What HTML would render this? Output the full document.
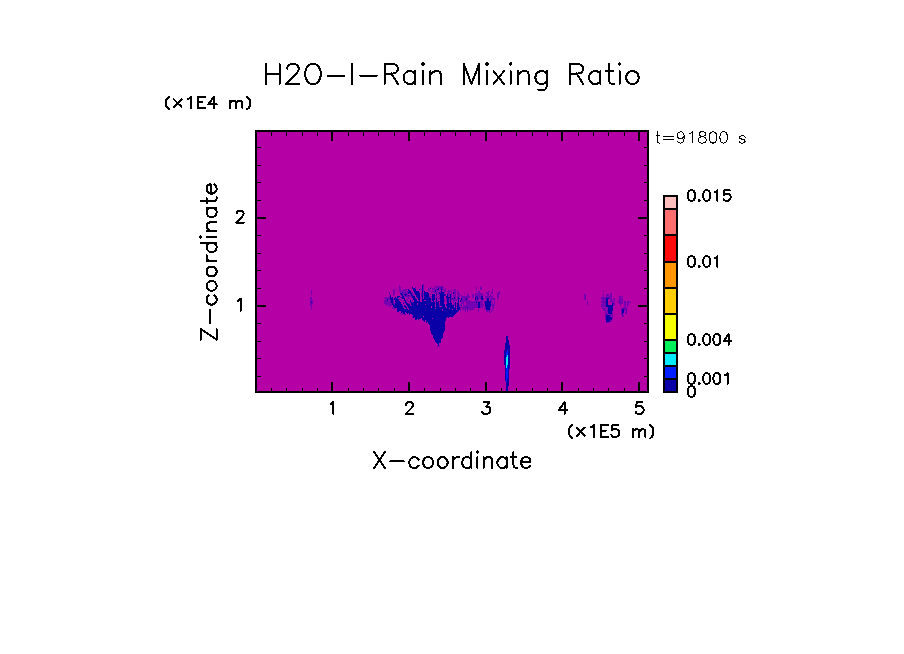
<!DOCTYPE html>
<html><head><meta charset="utf-8"><title>H2O-I-Rain Mixing Ratio</title>
<style>html,body{margin:0;padding:0;background:#fff;font-family:"Liberation Sans",sans-serif;}svg{display:block}</style></head><body>
<svg width="904" height="654" viewBox="0 0 904 654" shape-rendering="crispEdges">
<rect x="0" y="0" width="904" height="654" fill="#fff"/>
<rect x="255" y="130" width="394" height="263" fill="#b400a5"/>
<path fill="#7500b2" d="M423 284h1v1h-1zM399 285h1v1h-1zM423 285h1v1h-1zM399 286h1v1h-1zM423 286h1v1h-1zM435 286h8v1h-8zM480 286h1v1h-1zM399 287h2v1h-2zM415 287h1v1h-1zM423 287h1v1h-1zM431 287h1v1h-1zM434 287h2v1h-2zM437 287h4v1h-4zM442 287h2v1h-2zM476 287h1v1h-1zM480 287h2v1h-2zM399 288h2v1h-2zM415 288h1v1h-1zM420 288h1v1h-1zM423 288h1v1h-1zM428 288h1v1h-1zM432 288h3v1h-3zM436 288h1v1h-1zM439 288h2v1h-2zM442 288h1v1h-1zM445 288h1v1h-1zM476 288h1v1h-1zM480 288h2v1h-2zM393 289h2v1h-2zM396 289h1v1h-1zM399 289h2v1h-2zM403 289h5v1h-5zM421 289h1v1h-1zM423 289h1v1h-1zM428 289h2v1h-2zM432 289h5v1h-5zM440 289h1v1h-1zM442 289h4v1h-4zM451 289h1v1h-1zM454 289h2v1h-2zM476 289h1v1h-1zM480 289h2v1h-2zM492 289h1v1h-1zM311 290h1v1h-1zM393 290h2v1h-2zM399 290h7v1h-7zM410 290h1v1h-1zM420 290h1v1h-1zM423 290h1v1h-1zM428 290h3v1h-3zM432 290h1v1h-1zM434 290h1v1h-1zM436 290h4v1h-4zM443 290h3v1h-3zM448 290h2v1h-2zM451 290h1v1h-1zM453 290h3v1h-3zM457 290h1v1h-1zM492 290h1v1h-1zM311 291h1v1h-1zM393 291h2v1h-2zM399 291h10v1h-10zM419 291h1v1h-1zM423 291h1v1h-1zM430 291h1v1h-1zM432 291h3v1h-3zM436 291h2v1h-2zM440 291h1v1h-1zM442 291h1v1h-1zM444 291h2v1h-2zM447 291h3v1h-3zM451 291h1v1h-1zM454 291h2v1h-2zM458 291h1v1h-1zM476 291h4v1h-4zM488 291h2v1h-2zM492 291h1v1h-1zM499 291h1v1h-1zM603 291h1v1h-1zM311 292h1v1h-1zM389 292h1v1h-1zM393 292h2v1h-2zM400 292h1v1h-1zM403 292h5v1h-5zM411 292h2v1h-2zM419 292h1v1h-1zM421 292h1v1h-1zM431 292h1v1h-1zM433 292h4v1h-4zM438 292h1v1h-1zM440 292h1v1h-1zM444 292h1v1h-1zM448 292h2v1h-2zM451 292h1v1h-1zM454 292h2v1h-2zM457 292h2v1h-2zM478 292h2v1h-2zM486 292h3v1h-3zM491 292h2v1h-2zM498 292h2v1h-2zM311 293h1v1h-1zM389 293h1v1h-1zM393 293h2v1h-2zM402 293h6v1h-6zM409 293h1v1h-1zM412 293h1v1h-1zM414 293h1v1h-1zM421 293h1v1h-1zM423 293h1v1h-1zM435 293h4v1h-4zM447 293h3v1h-3zM451 293h1v1h-1zM454 293h2v1h-2zM457 293h3v1h-3zM464 293h1v1h-1zM475 293h8v1h-8zM485 293h4v1h-4zM491 293h2v1h-2zM497 293h3v1h-3zM610 293h2v1h-2zM311 294h1v1h-1zM389 294h1v1h-1zM393 294h2v1h-2zM400 294h1v1h-1zM403 294h1v1h-1zM407 294h1v1h-1zM410 294h1v1h-1zM412 294h2v1h-2zM421 294h1v1h-1zM423 294h1v1h-1zM430 294h1v1h-1zM438 294h2v1h-2zM448 294h2v1h-2zM451 294h1v1h-1zM453 294h1v1h-1zM455 294h1v1h-1zM457 294h3v1h-3zM467 294h2v1h-2zM472 294h2v1h-2zM475 294h8v1h-8zM487 294h2v1h-2zM490 294h1v1h-1zM497 294h3v1h-3zM584 294h2v1h-2zM603 294h1v1h-1zM606 294h3v1h-3zM610 294h2v1h-2zM393 295h1v1h-1zM401 295h1v1h-1zM403 295h2v1h-2zM406 295h2v1h-2zM409 295h2v1h-2zM421 295h1v1h-1zM429 295h1v1h-1zM435 295h2v1h-2zM439 295h1v1h-1zM445 295h1v1h-1zM448 295h2v1h-2zM451 295h1v1h-1zM453 295h3v1h-3zM458 295h2v1h-2zM461 295h1v1h-1zM467 295h2v1h-2zM472 295h2v1h-2zM475 295h8v1h-8zM484 295h1v1h-1zM487 295h2v1h-2zM490 295h1v1h-1zM493 295h1v1h-1zM497 295h2v1h-2zM584 295h2v1h-2zM603 295h1v1h-1zM606 295h3v1h-3zM610 295h2v1h-2zM389 296h1v1h-1zM404 296h8v1h-8zM421 296h1v1h-1zM423 296h1v1h-1zM430 296h2v1h-2zM436 296h1v1h-1zM438 296h1v1h-1zM448 296h2v1h-2zM451 296h1v1h-1zM453 296h3v1h-3zM457 296h3v1h-3zM461 296h9v1h-9zM472 296h2v1h-2zM475 296h1v1h-1zM477 296h4v1h-4zM485 296h8v1h-8zM497 296h2v1h-2zM584 296h2v1h-2zM603 296h1v1h-1zM606 296h6v1h-6zM619 296h4v1h-4zM310 297h2v1h-2zM385 297h5v1h-5zM391 297h1v1h-1zM400 297h1v1h-1zM404 297h2v1h-2zM407 297h2v1h-2zM411 297h1v1h-1zM420 297h1v1h-1zM436 297h2v1h-2zM439 297h1v1h-1zM451 297h1v1h-1zM453 297h1v1h-1zM455 297h1v1h-1zM457 297h1v1h-1zM461 297h9v1h-9zM472 297h2v1h-2zM476 297h1v1h-1zM478 297h3v1h-3zM485 297h8v1h-8zM497 297h2v1h-2zM584 297h2v1h-2zM601 297h11v1h-11zM619 297h2v1h-2zM310 298h2v1h-2zM384 298h6v1h-6zM408 298h2v1h-2zM420 298h1v1h-1zM431 298h1v1h-1zM435 298h1v1h-1zM438 298h2v1h-2zM446 298h1v1h-1zM449 298h1v1h-1zM451 298h1v1h-1zM453 298h1v1h-1zM455 298h1v1h-1zM457 298h1v1h-1zM462 298h4v1h-4zM467 298h1v1h-1zM476 298h1v1h-1zM478 298h3v1h-3zM483 298h1v1h-1zM486 298h1v1h-1zM490 298h5v1h-5zM497 298h1v1h-1zM584 298h2v1h-2zM601 298h5v1h-5zM609 298h3v1h-3zM613 298h2v1h-2zM619 298h4v1h-4zM310 299h2v1h-2zM385 299h2v1h-2zM388 299h2v1h-2zM393 299h1v1h-1zM399 299h3v1h-3zM406 299h2v1h-2zM410 299h1v1h-1zM412 299h1v1h-1zM431 299h1v1h-1zM438 299h1v1h-1zM444 299h1v1h-1zM446 299h1v1h-1zM449 299h1v1h-1zM451 299h7v1h-7zM462 299h4v1h-4zM467 299h1v1h-1zM476 299h1v1h-1zM478 299h1v1h-1zM483 299h1v1h-1zM486 299h1v1h-1zM490 299h5v1h-5zM497 299h1v1h-1zM584 299h2v1h-2zM601 299h5v1h-5zM610 299h2v1h-2zM613 299h2v1h-2zM619 299h4v1h-4zM310 300h3v1h-3zM384 300h3v1h-3zM389 300h2v1h-2zM393 300h1v1h-1zM401 300h1v1h-1zM403 300h1v1h-1zM407 300h1v1h-1zM412 300h1v1h-1zM437 300h1v1h-1zM444 300h1v1h-1zM446 300h1v1h-1zM451 300h1v1h-1zM453 300h4v1h-4zM461 300h9v1h-9zM475 300h4v1h-4zM481 300h2v1h-2zM484 300h1v1h-1zM486 300h1v1h-1zM490 300h2v1h-2zM494 300h1v1h-1zM602 300h4v1h-4zM610 300h3v1h-3zM614 300h1v1h-1zM618 300h5v1h-5zM310 301h3v1h-3zM384 301h7v1h-7zM393 301h1v1h-1zM406 301h1v1h-1zM408 301h2v1h-2zM411 301h1v1h-1zM431 301h1v1h-1zM435 301h1v1h-1zM439 301h1v1h-1zM444 301h1v1h-1zM446 301h1v1h-1zM449 301h1v1h-1zM453 301h2v1h-2zM457 301h1v1h-1zM461 301h22v1h-22zM484 301h1v1h-1zM491 301h1v1h-1zM494 301h1v1h-1zM587 301h1v1h-1zM601 301h5v1h-5zM610 301h4v1h-4zM618 301h5v1h-5zM624 301h2v1h-2zM627 301h3v1h-3zM310 302h1v1h-1zM312 302h1v1h-1zM384 302h7v1h-7zM393 302h1v1h-1zM395 302h1v1h-1zM403 302h2v1h-2zM412 302h1v1h-1zM435 302h1v1h-1zM451 302h1v1h-1zM453 302h1v1h-1zM461 302h3v1h-3zM466 302h10v1h-10zM477 302h1v1h-1zM480 302h3v1h-3zM484 302h1v1h-1zM492 302h1v1h-1zM494 302h1v1h-1zM587 302h1v1h-1zM601 302h5v1h-5zM612 302h3v1h-3zM618 302h5v1h-5zM624 302h2v1h-2zM627 302h4v1h-4zM310 303h3v1h-3zM384 303h8v1h-8zM393 303h2v1h-2zM408 303h2v1h-2zM435 303h1v1h-1zM454 303h1v1h-1zM456 303h1v1h-1zM461 303h3v1h-3zM466 303h12v1h-12zM480 303h3v1h-3zM484 303h1v1h-1zM492 303h1v1h-1zM494 303h1v1h-1zM587 303h1v1h-1zM602 303h4v1h-4zM613 303h2v1h-2zM619 303h4v1h-4zM624 303h2v1h-2zM627 303h2v1h-2zM310 304h2v1h-2zM386 304h6v1h-6zM394 304h1v1h-1zM402 304h1v1h-1zM439 304h1v1h-1zM453 304h2v1h-2zM460 304h2v1h-2zM463 304h1v1h-1zM466 304h12v1h-12zM480 304h4v1h-4zM491 304h4v1h-4zM587 304h1v1h-1zM601 304h5v1h-5zM613 304h2v1h-2zM620 304h1v1h-1zM624 304h2v1h-2zM627 304h2v1h-2zM310 305h2v1h-2zM385 305h2v1h-2zM389 305h3v1h-3zM402 305h1v1h-1zM405 305h1v1h-1zM410 305h2v1h-2zM439 305h1v1h-1zM454 305h1v1h-1zM459 305h2v1h-2zM463 305h15v1h-15zM480 305h4v1h-4zM491 305h4v1h-4zM601 305h5v1h-5zM613 305h2v1h-2zM620 305h1v1h-1zM624 305h2v1h-2zM627 305h1v1h-1zM311 306h1v1h-1zM388 306h2v1h-2zM403 306h1v1h-1zM406 306h2v1h-2zM439 306h1v1h-1zM456 306h1v1h-1zM459 306h1v1h-1zM461 306h1v1h-1zM463 306h15v1h-15zM480 306h3v1h-3zM492 306h2v1h-2zM601 306h5v1h-5zM624 306h1v1h-1zM627 306h1v1h-1zM311 307h1v1h-1zM392 307h1v1h-1zM454 307h1v1h-1zM460 307h7v1h-7zM468 307h10v1h-10zM480 307h3v1h-3zM485 307h1v1h-1zM492 307h2v1h-2zM602 307h2v1h-2zM605 307h1v1h-1zM607 307h1v1h-1zM623 307h4v1h-4zM311 308h1v1h-1zM392 308h4v1h-4zM408 308h1v1h-1zM456 308h1v1h-1zM460 308h1v1h-1zM462 308h12v1h-12zM478 308h1v1h-1zM484 308h2v1h-2zM490 308h1v1h-1zM492 308h2v1h-2zM602 308h5v1h-5zM621 308h6v1h-6zM311 309h1v1h-1zM394 309h1v1h-1zM460 309h1v1h-1zM462 309h12v1h-12zM478 309h1v1h-1zM485 309h1v1h-1zM490 309h1v1h-1zM492 309h1v1h-1zM603 309h2v1h-2zM606 309h2v1h-2zM621 309h1v1h-1zM624 309h3v1h-3zM460 310h1v1h-1zM465 310h1v1h-1zM467 310h1v1h-1zM470 310h1v1h-1zM478 310h1v1h-1zM486 310h4v1h-4zM491 310h2v1h-2zM603 310h3v1h-3zM607 310h1v1h-1zM621 310h1v1h-1zM624 310h3v1h-3zM460 311h1v1h-1zM465 311h1v1h-1zM467 311h1v1h-1zM478 311h1v1h-1zM486 311h4v1h-4zM491 311h1v1h-1zM605 311h3v1h-3zM621 311h1v1h-1zM625 311h2v1h-2zM402 312h1v1h-1zM489 312h2v1h-2zM605 312h2v1h-2zM621 312h1v1h-1zM625 312h2v1h-2zM400 313h1v1h-1zM402 313h1v1h-1zM405 313h1v1h-1zM605 313h3v1h-3zM612 313h1v1h-1zM621 313h1v1h-1zM625 313h2v1h-2zM401 314h2v1h-2zM404 314h2v1h-2zM605 314h3v1h-3zM609 314h4v1h-4zM621 314h3v1h-3zM605 315h1v1h-1zM610 315h3v1h-3zM622 315h2v1h-2zM412 316h1v1h-1zM605 316h1v1h-1zM610 316h1v1h-1zM612 316h1v1h-1zM622 316h2v1h-2zM412 317h1v1h-1zM414 317h1v1h-1zM605 317h1v1h-1zM612 317h1v1h-1zM605 318h1v1h-1zM612 318h1v1h-1zM605 319h1v1h-1zM610 320h2v1h-2zM610 321h2v1h-2zM606 322h3v1h-3zM437 345h1v1h-1zM439 345h1v1h-1zM437 346h1v1h-1zM439 346h1v1h-1z"/>
<path fill="#0a00a8" d="M422 285h1v1h-1zM422 286h1v1h-1zM412 287h1v1h-1zM422 287h1v1h-1zM441 287h1v1h-1zM412 288h3v1h-3zM422 288h1v1h-1zM430 288h1v1h-1zM438 288h1v1h-1zM441 288h1v1h-1zM408 289h1v1h-1zM413 289h3v1h-3zM419 289h1v1h-1zM422 289h1v1h-1zM437 289h2v1h-2zM441 289h1v1h-1zM408 290h2v1h-2zM413 290h3v1h-3zM422 290h1v1h-1zM435 290h1v1h-1zM441 290h1v1h-1zM409 291h2v1h-2zM414 291h5v1h-5zM422 291h1v1h-1zM424 291h1v1h-1zM435 291h1v1h-1zM441 291h1v1h-1zM402 292h1v1h-1zM408 292h3v1h-3zM414 292h5v1h-5zM422 292h1v1h-1zM424 292h4v1h-4zM439 292h1v1h-1zM441 292h3v1h-3zM453 292h1v1h-1zM400 293h2v1h-2zM408 293h1v1h-1zM410 293h2v1h-2zM415 293h5v1h-5zM422 293h1v1h-1zM424 293h5v1h-5zM439 293h5v1h-5zM453 293h1v1h-1zM401 294h2v1h-2zM404 294h3v1h-3zM411 294h1v1h-1zM415 294h5v1h-5zM422 294h1v1h-1zM424 294h5v1h-5zM432 294h3v1h-3zM436 294h1v1h-1zM440 294h6v1h-6zM447 294h1v1h-1zM450 294h1v1h-1zM390 295h1v1h-1zM402 295h1v1h-1zM405 295h1v1h-1zM408 295h1v1h-1zM411 295h2v1h-2zM416 295h4v1h-4zM422 295h1v1h-1zM424 295h5v1h-5zM432 295h3v1h-3zM440 295h5v1h-5zM447 295h1v1h-1zM450 295h1v1h-1zM390 296h1v1h-1zM397 296h3v1h-3zM402 296h2v1h-2zM412 296h3v1h-3zM416 296h4v1h-4zM422 296h1v1h-1zM424 296h5v1h-5zM432 296h3v1h-3zM440 296h4v1h-4zM446 296h2v1h-2zM450 296h1v1h-1zM476 296h1v1h-1zM481 296h2v1h-2zM390 297h1v1h-1zM392 297h1v1h-1zM395 297h1v1h-1zM397 297h2v1h-2zM401 297h3v1h-3zM412 297h3v1h-3zM417 297h3v1h-3zM422 297h1v1h-1zM424 297h6v1h-6zM432 297h3v1h-3zM440 297h4v1h-4zM446 297h5v1h-5zM454 297h1v1h-1zM458 297h1v1h-1zM475 297h1v1h-1zM477 297h1v1h-1zM481 297h2v1h-2zM390 298h3v1h-3zM394 298h4v1h-4zM402 298h3v1h-3zM413 298h3v1h-3zM418 298h2v1h-2zM422 298h1v1h-1zM424 298h7v1h-7zM432 298h3v1h-3zM436 298h1v1h-1zM440 298h4v1h-4zM447 298h2v1h-2zM450 298h1v1h-1zM452 298h1v1h-1zM454 298h1v1h-1zM458 298h2v1h-2zM461 298h1v1h-1zM466 298h1v1h-1zM475 298h1v1h-1zM477 298h1v1h-1zM481 298h2v1h-2zM487 298h2v1h-2zM606 298h3v1h-3zM387 299h1v1h-1zM390 299h3v1h-3zM394 299h5v1h-5zM404 299h1v1h-1zM413 299h4v1h-4zM418 299h2v1h-2zM422 299h9v1h-9zM432 299h3v1h-3zM436 299h1v1h-1zM440 299h4v1h-4zM447 299h2v1h-2zM450 299h1v1h-1zM458 299h1v1h-1zM461 299h1v1h-1zM466 299h1v1h-1zM475 299h1v1h-1zM477 299h1v1h-1zM481 299h2v1h-2zM487 299h2v1h-2zM606 299h2v1h-2zM387 300h1v1h-1zM391 300h2v1h-2zM395 300h4v1h-4zM404 300h2v1h-2zM410 300h1v1h-1zM414 300h3v1h-3zM419 300h1v1h-1zM422 300h2v1h-2zM426 300h5v1h-5zM432 300h2v1h-2zM436 300h1v1h-1zM440 300h4v1h-4zM447 300h2v1h-2zM450 300h1v1h-1zM458 300h1v1h-1zM460 300h1v1h-1zM487 300h2v1h-2zM606 300h2v1h-2zM391 301h2v1h-2zM395 301h5v1h-5zM405 301h1v1h-1zM410 301h1v1h-1zM414 301h6v1h-6zM422 301h9v1h-9zM433 301h1v1h-1zM436 301h1v1h-1zM438 301h1v1h-1zM440 301h4v1h-4zM447 301h2v1h-2zM450 301h1v1h-1zM458 301h1v1h-1zM460 301h1v1h-1zM485 301h6v1h-6zM606 301h2v1h-2zM311 302h1v1h-1zM391 302h2v1h-2zM396 302h5v1h-5zM405 302h2v1h-2zM410 302h2v1h-2zM413 302h22v1h-22zM436 302h3v1h-3zM440 302h4v1h-4zM447 302h2v1h-2zM450 302h1v1h-1zM455 302h1v1h-1zM458 302h1v1h-1zM476 302h1v1h-1zM478 302h2v1h-2zM485 302h6v1h-6zM606 302h2v1h-2zM392 303h1v1h-1zM395 303h6v1h-6zM403 303h1v1h-1zM406 303h2v1h-2zM411 303h6v1h-6zM418 303h17v1h-17zM436 303h3v1h-3zM440 303h4v1h-4zM447 303h5v1h-5zM455 303h1v1h-1zM457 303h2v1h-2zM478 303h2v1h-2zM485 303h6v1h-6zM606 303h2v1h-2zM612 303h1v1h-1zM392 304h2v1h-2zM395 304h7v1h-7zM406 304h4v1h-4zM411 304h6v1h-6zM418 304h7v1h-7zM426 304h9v1h-9zM436 304h3v1h-3zM440 304h5v1h-5zM446 304h6v1h-6zM455 304h1v1h-1zM457 304h2v1h-2zM478 304h2v1h-2zM485 304h6v1h-6zM606 304h2v1h-2zM612 304h1v1h-1zM393 305h9v1h-9zM404 305h1v1h-1zM407 305h3v1h-3zM412 305h23v1h-23zM436 305h3v1h-3zM440 305h5v1h-5zM446 305h8v1h-8zM455 305h1v1h-1zM457 305h2v1h-2zM461 305h1v1h-1zM478 305h2v1h-2zM485 305h6v1h-6zM606 305h7v1h-7zM393 306h10v1h-10zM404 306h2v1h-2zM408 306h23v1h-23zM432 306h3v1h-3zM436 306h3v1h-3zM442 306h3v1h-3zM447 306h7v1h-7zM455 306h1v1h-1zM457 306h2v1h-2zM478 306h2v1h-2zM485 306h6v1h-6zM606 306h7v1h-7zM394 307h9v1h-9zM405 307h2v1h-2zM408 307h23v1h-23zM432 307h14v1h-14zM447 307h7v1h-7zM455 307h1v1h-1zM457 307h3v1h-3zM467 307h1v1h-1zM478 307h2v1h-2zM486 307h4v1h-4zM608 307h5v1h-5zM397 308h7v1h-7zM406 308h1v1h-1zM409 308h26v1h-26zM436 308h13v1h-13zM450 308h6v1h-6zM457 308h3v1h-3zM486 308h4v1h-4zM608 308h5v1h-5zM397 309h11v1h-11zM409 309h33v1h-33zM443 309h9v1h-9zM453 309h3v1h-3zM457 309h3v1h-3zM486 309h4v1h-4zM608 309h5v1h-5zM622 309h2v1h-2zM397 310h45v1h-45zM443 310h16v1h-16zM608 310h5v1h-5zM622 310h2v1h-2zM397 311h2v1h-2zM401 311h57v1h-57zM608 311h4v1h-4zM622 311h2v1h-2zM401 312h1v1h-1zM403 312h2v1h-2zM406 312h51v1h-51zM608 312h4v1h-4zM622 312h2v1h-2zM403 313h2v1h-2zM407 313h1v1h-1zM409 313h47v1h-47zM608 313h4v1h-4zM622 313h1v1h-1zM409 314h1v1h-1zM412 314h43v1h-43zM413 315h41v1h-41zM606 315h4v1h-4zM413 316h10v1h-10zM424 316h29v1h-29zM606 316h4v1h-4zM413 317h1v1h-1zM415 317h32v1h-32zM448 317h1v1h-1zM606 317h6v1h-6zM415 318h6v1h-6zM422 318h10v1h-10zM433 318h13v1h-13zM606 318h6v1h-6zM415 319h2v1h-2zM418 319h1v1h-1zM422 319h24v1h-24zM606 319h6v1h-6zM423 320h2v1h-2zM426 320h20v1h-20zM606 320h4v1h-4zM424 321h1v1h-1zM426 321h19v1h-19zM606 321h4v1h-4zM426 322h1v1h-1zM428 322h17v1h-17zM428 323h17v1h-17zM429 324h16v1h-16zM430 325h15v1h-15zM430 326h15v1h-15zM430 327h15v1h-15zM430 328h15v1h-15zM430 329h15v1h-15zM430 330h15v1h-15zM431 331h13v1h-13zM431 332h13v1h-13zM431 333h12v1h-12zM432 334h11v1h-11zM433 335h10v1h-10zM433 336h10v1h-10zM506 336h2v1h-2zM433 337h10v1h-10zM506 337h2v1h-2zM434 338h8v1h-8zM506 338h2v1h-2zM434 339h7v1h-7zM506 339h2v1h-2zM435 340h6v1h-6zM506 340h3v1h-3zM435 341h6v1h-6zM506 341h3v1h-3zM436 342h5v1h-5zM506 342h3v1h-3zM437 343h2v1h-2zM505 343h4v1h-4zM438 344h1v1h-1zM505 344h4v1h-4zM438 345h1v1h-1zM505 345h5v1h-5zM505 346h5v1h-5zM505 347h5v1h-5zM505 348h5v1h-5zM505 349h5v1h-5zM504 350h3v1h-3zM508 350h2v1h-2zM504 351h3v1h-3zM508 351h2v1h-2zM504 352h2v1h-2zM508 352h2v1h-2zM504 353h2v1h-2zM508 353h2v1h-2zM504 354h2v1h-2zM508 354h2v1h-2zM504 355h2v1h-2zM508 355h2v1h-2zM504 356h2v1h-2zM508 356h2v1h-2zM504 357h2v1h-2zM508 357h2v1h-2zM504 358h2v1h-2zM508 358h2v1h-2zM504 359h2v1h-2zM508 359h2v1h-2zM504 360h2v1h-2zM508 360h2v1h-2zM504 361h2v1h-2zM508 361h2v1h-2zM504 362h2v1h-2zM508 362h2v1h-2zM504 363h2v1h-2zM508 363h2v1h-2zM504 364h2v1h-2zM508 364h2v1h-2zM505 365h1v1h-1zM508 365h2v1h-2zM505 366h1v1h-1zM508 366h2v1h-2zM505 367h1v1h-1zM508 367h2v1h-2zM505 368h1v1h-1zM508 368h2v1h-2zM505 369h1v1h-1zM508 369h1v1h-1zM505 370h1v1h-1zM508 370h1v1h-1zM505 371h1v1h-1zM508 371h1v1h-1zM505 372h1v1h-1zM508 372h1v1h-1zM505 373h1v1h-1zM508 373h1v1h-1zM505 374h1v1h-1zM508 374h1v1h-1zM505 375h1v1h-1zM508 375h1v1h-1zM505 376h1v1h-1zM508 376h1v1h-1zM505 377h1v1h-1zM508 377h1v1h-1zM505 378h1v1h-1zM508 378h1v1h-1zM505 379h1v1h-1zM507 379h2v1h-2zM505 380h1v1h-1zM507 380h2v1h-2zM507 381h2v1h-2zM506 382h3v1h-3zM506 383h3v1h-3zM506 384h3v1h-3zM506 385h3v1h-3zM506 386h2v1h-2zM506 387h2v1h-2zM506 388h2v1h-2zM506 389h2v1h-2zM506 390h2v1h-2zM506 391h2v1h-2z"/>
<path fill="#001eff" d="M507 350h1v1h-1zM507 351h1v1h-1zM506 352h2v1h-2zM506 353h2v1h-2zM506 354h2v1h-2zM506 355h1v1h-1zM506 356h1v1h-1zM507 365h1v1h-1zM507 366h1v1h-1zM507 367h1v1h-1zM506 368h2v1h-2zM506 369h2v1h-2zM506 370h2v1h-2zM506 371h2v1h-2zM506 372h2v1h-2zM506 373h2v1h-2zM506 374h2v1h-2zM506 375h2v1h-2zM506 376h2v1h-2zM506 377h2v1h-2zM506 378h2v1h-2zM506 379h1v1h-1zM506 380h1v1h-1zM506 381h1v1h-1z"/>
<path fill="#00ebff" d="M507 355h1v1h-1zM507 356h1v1h-1zM506 357h2v1h-2zM506 358h2v1h-2zM506 359h2v1h-2zM506 360h2v1h-2zM506 361h2v1h-2zM506 362h2v1h-2zM506 363h2v1h-2zM506 364h2v1h-2zM506 365h1v1h-1zM506 366h1v1h-1zM506 367h1v1h-1z"/>
<g fill="#000">
<rect x="255" y="130" width="394" height="2"/>
<rect x="255" y="391" width="394" height="2"/>
<rect x="255" y="130" width="2" height="263"/>
<rect x="647" y="130" width="2" height="263"/>
<rect x="271" y="132" width="1" height="4"/>
<rect x="271" y="388" width="1" height="3"/>
<rect x="286" y="132" width="1" height="4"/>
<rect x="286" y="388" width="1" height="3"/>
<rect x="302" y="132" width="1" height="4"/>
<rect x="302" y="388" width="1" height="3"/>
<rect x="317" y="132" width="1" height="4"/>
<rect x="317" y="388" width="1" height="3"/>
<rect x="331" y="132" width="2" height="9"/>
<rect x="331" y="382" width="2" height="9"/>
<rect x="348" y="132" width="1" height="4"/>
<rect x="348" y="388" width="1" height="3"/>
<rect x="363" y="132" width="1" height="4"/>
<rect x="363" y="388" width="1" height="3"/>
<rect x="378" y="132" width="1" height="4"/>
<rect x="378" y="388" width="1" height="3"/>
<rect x="394" y="132" width="1" height="4"/>
<rect x="394" y="388" width="1" height="3"/>
<rect x="408" y="132" width="2" height="9"/>
<rect x="408" y="382" width="2" height="9"/>
<rect x="424" y="132" width="1" height="4"/>
<rect x="424" y="388" width="1" height="3"/>
<rect x="440" y="132" width="1" height="4"/>
<rect x="440" y="388" width="1" height="3"/>
<rect x="455" y="132" width="1" height="4"/>
<rect x="455" y="388" width="1" height="3"/>
<rect x="470" y="132" width="1" height="4"/>
<rect x="470" y="388" width="1" height="3"/>
<rect x="485" y="132" width="2" height="9"/>
<rect x="485" y="382" width="2" height="9"/>
<rect x="501" y="132" width="1" height="4"/>
<rect x="501" y="388" width="1" height="3"/>
<rect x="516" y="132" width="1" height="4"/>
<rect x="516" y="388" width="1" height="3"/>
<rect x="532" y="132" width="1" height="4"/>
<rect x="532" y="388" width="1" height="3"/>
<rect x="547" y="132" width="1" height="4"/>
<rect x="547" y="388" width="1" height="3"/>
<rect x="561" y="132" width="2" height="9"/>
<rect x="561" y="382" width="2" height="9"/>
<rect x="578" y="132" width="1" height="4"/>
<rect x="578" y="388" width="1" height="3"/>
<rect x="593" y="132" width="1" height="4"/>
<rect x="593" y="388" width="1" height="3"/>
<rect x="608" y="132" width="1" height="4"/>
<rect x="608" y="388" width="1" height="3"/>
<rect x="624" y="132" width="1" height="4"/>
<rect x="624" y="388" width="1" height="3"/>
<rect x="638" y="132" width="2" height="9"/>
<rect x="638" y="382" width="2" height="9"/>
<rect x="257" y="376" width="4" height="1"/>
<rect x="644" y="376" width="3" height="1"/>
<rect x="257" y="358" width="4" height="1"/>
<rect x="644" y="358" width="3" height="1"/>
<rect x="257" y="341" width="4" height="1"/>
<rect x="644" y="341" width="3" height="1"/>
<rect x="257" y="323" width="4" height="1"/>
<rect x="644" y="323" width="3" height="1"/>
<rect x="257" y="305" width="9" height="2"/>
<rect x="638" y="305" width="9" height="2"/>
<rect x="257" y="288" width="4" height="1"/>
<rect x="644" y="288" width="3" height="1"/>
<rect x="257" y="270" width="4" height="1"/>
<rect x="644" y="270" width="3" height="1"/>
<rect x="257" y="253" width="4" height="1"/>
<rect x="644" y="253" width="3" height="1"/>
<rect x="257" y="235" width="4" height="1"/>
<rect x="644" y="235" width="3" height="1"/>
<rect x="257" y="217" width="9" height="2"/>
<rect x="638" y="217" width="9" height="2"/>
<rect x="257" y="200" width="4" height="1"/>
<rect x="644" y="200" width="3" height="1"/>
<rect x="257" y="182" width="4" height="1"/>
<rect x="644" y="182" width="3" height="1"/>
<rect x="257" y="165" width="4" height="1"/>
<rect x="644" y="165" width="3" height="1"/>
<rect x="257" y="147" width="4" height="1"/>
<rect x="644" y="147" width="3" height="1"/>
</g>
<rect x="663" y="379" width="15" height="13" fill="#0a00a8"/>
<rect x="663" y="366" width="15" height="13" fill="#001eff"/>
<rect x="663" y="353" width="15" height="13" fill="#00ebff"/>
<rect x="663" y="340" width="15" height="13" fill="#00f05a"/>
<rect x="663" y="314" width="15" height="26" fill="#f5ff00"/>
<rect x="663" y="288" width="15" height="26" fill="#ffcd00"/>
<rect x="663" y="262" width="15" height="26" fill="#ff9600"/>
<rect x="663" y="235" width="15" height="27" fill="#ff0a0a"/>
<rect x="663" y="209" width="15" height="26" fill="#ff6e6e"/>
<rect x="663" y="196" width="15" height="13" fill="#ffbebe"/>
<g fill="#000">
<rect x="663" y="195" width="2" height="198"/>
<rect x="676" y="195" width="2" height="198"/>
<rect x="663" y="391" width="15" height="2"/>
<rect x="663" y="378" width="15" height="2"/>
<rect x="663" y="365" width="15" height="2"/>
<rect x="663" y="352" width="15" height="2"/>
<rect x="663" y="339" width="15" height="2"/>
<rect x="663" y="313" width="15" height="2"/>
<rect x="663" y="287" width="15" height="2"/>
<rect x="663" y="261" width="15" height="2"/>
<rect x="663" y="234" width="15" height="2"/>
<rect x="663" y="208" width="15" height="2"/>
<rect x="663" y="195" width="15" height="2"/>
</g>
<path d="M266.15 63.95 L266.15 84.00 M279.52 63.95 L279.52 84.00 M266.15 73.50 L279.52 73.50 M287.16 68.72 L287.16 67.77 L288.12 65.86 L289.07 64.90 L290.98 63.95 L294.80 63.95 L296.71 64.90 L297.67 65.86 L298.62 67.77 L298.62 69.67 L297.67 71.59 L295.76 74.45 L286.21 84.00 L299.58 84.00 M311.04 63.95 L309.13 64.90 L307.22 66.81 L306.26 68.72 L305.31 71.59 L305.31 76.36 L306.26 79.22 L307.22 81.14 L309.13 83.05 L311.04 84.00 L314.86 84.00 L316.77 83.05 L318.68 81.14 L319.63 79.22 L320.59 76.36 L320.59 71.59 L319.63 68.72 L318.68 66.81 L316.77 64.90 L314.86 63.95 L311.04 63.95 M327.65 75.69 L344.46 75.69 M352.10 63.95 L352.10 84.00 M360.12 75.69 L376.93 75.69 M384.57 63.95 L384.57 84.00 M384.57 63.95 L393.17 63.95 L396.03 64.90 L396.99 65.86 L397.94 67.77 L397.94 69.67 L396.99 71.59 L396.03 72.54 L393.17 73.50 L384.57 73.50 M391.26 73.50 L397.94 84.00 M415.13 71.11 L415.13 84.00 M415.13 73.87 L413.22 72.03 L411.31 71.11 L408.45 71.11 L406.54 72.03 L404.63 73.87 L403.67 76.63 L403.67 78.47 L404.63 81.24 L406.54 83.08 L408.45 84.00 L411.31 84.00 L413.22 83.08 L415.13 81.24 M421.82 63.95 L422.77 64.97 L423.73 63.95 L422.77 62.92 L421.82 63.95 M422.77 71.11 L422.77 84.00 M430.41 71.11 L430.41 84.00 M430.41 74.79 L433.28 72.03 L435.19 71.11 L438.05 71.11 L439.96 72.03 L440.92 74.79 L440.92 84.00 M463.84 63.95 L463.84 84.00 M463.84 63.95 L471.48 84.00 M479.12 63.95 L471.48 84.00 M479.12 63.95 L479.12 84.00 M485.80 63.95 L486.76 64.97 L487.71 63.95 L486.76 62.92 L485.80 63.95 M486.76 71.11 L486.76 84.00 M493.44 71.11 L503.95 84.00 M503.95 71.11 L493.44 84.00 M509.68 63.95 L510.63 64.97 L511.59 63.95 L510.63 62.92 L509.68 63.95 M510.63 71.11 L510.63 84.00 M518.27 71.11 L518.27 84.00 M518.27 74.79 L521.14 72.03 L523.05 71.11 L525.91 71.11 L527.82 72.03 L528.78 74.79 L528.78 84.00 M546.92 71.11 L546.92 85.84 L545.97 88.60 L545.01 89.53 L543.10 90.45 L540.24 90.45 L538.33 89.53 M546.92 73.87 L545.01 72.03 L543.10 71.11 L540.24 71.11 L538.33 72.03 L536.42 73.87 L535.46 76.63 L535.46 78.47 L536.42 81.24 L538.33 83.08 L540.24 84.00 L543.10 84.00 L545.01 83.08 L546.92 81.24 M569.84 63.95 L569.84 84.00 M569.84 63.95 L578.44 63.95 L581.30 64.90 L582.26 65.86 L583.21 67.77 L583.21 69.67 L582.26 71.59 L581.30 72.54 L578.44 73.50 L569.84 73.50 M576.53 73.50 L583.21 84.00 M600.40 71.11 L600.40 84.00 M600.40 73.87 L598.49 72.03 L596.58 71.11 L593.72 71.11 L591.81 72.03 L589.90 73.87 L588.94 76.63 L588.94 78.47 L589.90 81.24 L591.81 83.08 L593.72 84.00 L596.58 84.00 L598.49 83.08 L600.40 81.24 M609.00 63.95 L609.00 80.32 L609.95 83.08 L611.86 84.00 L613.77 84.00 M606.13 71.11 L612.82 71.11 M618.55 63.95 L619.50 64.97 L620.46 63.95 L619.50 62.92 L618.55 63.95 M619.50 71.11 L619.50 84.00 M630.96 71.11 L629.05 72.03 L627.14 73.87 L626.19 76.63 L626.19 78.47 L627.14 81.24 L629.05 83.08 L630.96 84.00 L633.83 84.00 L635.74 83.08 L637.65 81.24 L638.60 78.47 L638.60 76.63 L637.65 73.87 L635.74 72.03 L633.83 71.11 L630.96 71.11" fill="none" stroke="#000" stroke-width="2" stroke-linecap="round" stroke-linejoin="round"/>
<path d="M169.10 97.00 L167.41 98.31 L166.28 100.14 L165.99 102.24 L165.99 103.81 L166.28 105.90 L167.41 107.74 L169.10 109.05 M173.74 106.95 L181.65 99.35 M173.74 99.35 L181.65 106.95 M187.86 99.09 L188.99 98.57 L190.69 97.00 L190.69 108.00 M198.03 97.00 L198.03 108.00 M198.03 97.00 L205.38 97.00 M198.03 102.24 L202.55 102.24 M198.03 108.00 L205.38 108.00 M213.85 97.00 L208.20 104.33 L216.68 104.33 M213.85 97.00 L213.85 108.00 M229.95 100.93 L229.95 108.00 M229.95 102.95 L231.65 101.43 L232.78 100.93 L234.47 100.93 L235.60 101.43 L236.17 102.95 L236.17 108.00 M236.17 102.95 L237.86 101.43 L238.99 100.93 L240.69 100.93 L241.82 101.43 L242.38 102.95 L242.38 108.00 M247.19 97.00 L248.88 98.31 L250.01 100.14 L250.29 102.24 L250.29 103.81 L250.01 105.90 L248.88 107.74 L247.19 109.05" fill="none" stroke="#000" stroke-width="2" stroke-linecap="round" stroke-linejoin="round"/>
<path d="M572.20 425.01 L570.51 426.44 L569.38 428.44 L569.09 430.72 L569.09 432.43 L569.38 434.72 L570.51 436.71 L572.20 438.14 M576.84 435.86 L584.75 427.58 M576.84 427.58 L584.75 435.86 M590.96 427.29 L592.09 426.72 L593.78 425.01 L593.78 437.00 M601.13 425.01 L601.13 437.00 M601.13 425.01 L608.48 425.01 M601.13 430.72 L605.65 430.72 M601.13 437.00 L608.48 437.00 M618.08 425.01 L612.43 425.01 L611.87 430.15 L612.43 429.58 L614.12 429.01 L615.82 429.01 L617.51 429.58 L618.64 430.72 L619.21 432.43 L619.21 433.57 L618.64 435.29 L617.51 436.43 L615.82 437.00 L614.12 437.00 L612.43 436.43 L611.87 435.86 L611.30 434.72 M633.05 429.29 L633.05 437.00 M633.05 431.49 L634.75 429.84 L635.88 429.29 L637.57 429.29 L638.70 429.84 L639.27 431.49 L639.27 437.00 M639.27 431.49 L640.96 429.84 L642.09 429.29 L643.79 429.29 L644.92 429.84 L645.48 431.49 L645.48 437.00 M650.28 425.01 L651.98 426.44 L653.11 428.44 L653.39 430.72 L653.39 432.43 L653.11 434.72 L651.98 436.71 L650.28 438.14" fill="none" stroke="#000" stroke-width="2" stroke-linecap="round" stroke-linejoin="round"/>
<path d="M374.07 452.04 L384.79 468.00 M384.79 452.04 L374.07 468.00 M390.46 461.39 L403.94 461.39 M418.50 459.46 L416.96 457.91 L415.43 457.13 L413.13 457.13 L411.60 457.91 L410.07 459.46 L409.30 461.79 L409.30 463.34 L410.07 465.67 L411.60 467.22 L413.13 468.00 L415.43 468.00 L416.96 467.22 L418.50 465.67 M426.92 457.13 L425.39 457.91 L423.86 459.46 L423.09 461.79 L423.09 463.34 L423.86 465.67 L425.39 467.22 L426.92 468.00 L429.22 468.00 L430.75 467.22 L432.28 465.67 L433.05 463.34 L433.05 461.79 L432.28 459.46 L430.75 457.91 L429.22 457.13 L426.92 457.13 M441.48 457.13 L439.94 457.91 L438.41 459.46 L437.65 461.79 L437.65 463.34 L438.41 465.67 L439.94 467.22 L441.48 468.00 L443.77 468.00 L445.31 467.22 L446.84 465.67 L447.60 463.34 L447.60 461.79 L446.84 459.46 L445.31 457.91 L443.77 457.13 L441.48 457.13 M452.97 457.13 L452.97 468.00 M452.97 461.79 L453.73 459.46 L455.26 457.91 L456.80 457.13 L459.09 457.13 M471.35 452.04 L471.35 468.00 M471.35 459.46 L469.82 457.91 L468.29 457.13 L465.99 457.13 L464.46 457.91 L462.92 459.46 L462.16 461.79 L462.16 463.34 L462.92 465.67 L464.46 467.22 L465.99 468.00 L468.29 468.00 L469.82 467.22 L471.35 465.67 M476.71 452.04 L477.48 452.77 L478.24 452.04 L477.48 451.31 L476.71 452.04 M477.48 457.13 L477.48 468.00 M483.61 457.13 L483.61 468.00 M483.61 460.24 L485.90 457.91 L487.44 457.13 L489.73 457.13 L491.27 457.91 L492.03 460.24 L492.03 468.00 M506.59 457.13 L506.59 468.00 M506.59 459.46 L505.05 457.91 L503.52 457.13 L501.22 457.13 L499.69 457.91 L498.16 459.46 L497.39 461.79 L497.39 463.34 L498.16 465.67 L499.69 467.22 L501.22 468.00 L503.52 468.00 L505.05 467.22 L506.59 465.67 M513.48 452.04 L513.48 464.89 L514.25 467.22 L515.78 468.00 L517.31 468.00 M511.18 457.13 L516.54 457.13 M521.14 461.79 L530.33 461.79 L530.33 460.24 L529.57 458.68 L528.80 457.91 L527.27 457.13 L524.97 457.13 L523.44 457.91 L521.91 459.46 L521.14 461.79 L521.14 463.34 L521.91 465.67 L523.44 467.22 L524.97 468.00 L527.27 468.00 L528.80 467.22 L530.33 465.67" fill="none" stroke="#000" stroke-width="2" stroke-linecap="round" stroke-linejoin="round"/>
<path d="M200.54 328.88 L216.50 339.52 M200.54 339.52 L200.54 328.88 M216.50 339.52 L216.50 328.88 M209.89 323.26 L209.89 309.88 M208.74 295.44 L207.33 296.96 L206.62 298.48 L206.62 300.76 L207.33 302.28 L208.74 303.80 L210.85 304.56 L212.27 304.56 L214.38 303.80 L215.79 302.28 L216.50 300.76 L216.50 298.48 L215.79 296.96 L214.38 295.44 M206.62 287.08 L207.33 288.60 L208.74 290.12 L210.85 290.88 L212.27 290.88 L214.38 290.12 L215.79 288.60 L216.50 287.08 L216.50 284.80 L215.79 283.28 L214.38 281.76 L212.27 281.00 L210.85 281.00 L208.74 281.76 L207.33 283.28 L206.62 284.80 L206.62 287.08 M206.62 272.64 L207.33 274.16 L208.74 275.68 L210.85 276.44 L212.27 276.44 L214.38 275.68 L215.79 274.16 L216.50 272.64 L216.50 270.36 L215.79 268.84 L214.38 267.32 L212.27 266.56 L210.85 266.56 L208.74 267.32 L207.33 268.84 L206.62 270.36 L206.62 272.64 M206.62 261.24 L216.50 261.24 M210.85 261.24 L208.74 260.48 L207.33 258.96 L206.62 257.44 L206.62 255.16 M200.54 243.00 L216.50 243.00 M208.74 243.00 L207.33 244.52 L206.62 246.04 L206.62 248.32 L207.33 249.84 L208.74 251.36 L210.85 252.12 L212.27 252.12 L214.38 251.36 L215.79 249.84 L216.50 248.32 L216.50 246.04 L215.79 244.52 L214.38 243.00 M200.54 237.68 L201.41 236.92 L200.54 236.16 L199.67 236.92 L200.54 237.68 M206.62 236.92 L216.50 236.92 M206.62 230.84 L216.50 230.84 M209.44 230.84 L207.33 228.56 L206.62 227.04 L206.62 224.76 L207.33 223.24 L209.44 222.48 L216.50 222.48 M206.62 208.04 L216.50 208.04 M208.74 208.04 L207.33 209.56 L206.62 211.08 L206.62 213.36 L207.33 214.88 L208.74 216.40 L210.85 217.16 L212.27 217.16 L214.38 216.40 L215.79 214.88 L216.50 213.36 L216.50 211.08 L215.79 209.56 L214.38 208.04 M200.54 201.20 L213.68 201.20 L215.79 200.44 L216.50 198.92 L216.50 197.40 M206.62 203.48 L206.62 198.16 M210.85 193.60 L210.85 184.48 L209.44 184.48 L208.03 185.24 L207.33 186.00 L206.62 187.52 L206.62 189.80 L207.33 191.32 L208.74 192.84 L210.85 193.60 L212.27 193.60 L214.38 192.84 L215.79 191.32 L216.50 189.80 L216.50 187.52 L215.79 186.00 L214.38 184.48" fill="none" stroke="#000" stroke-width="2" stroke-linecap="round" stroke-linejoin="round"/>
<path d="M657.23 131.76 L657.23 140.94 L657.77 142.48 L658.84 143.00 L659.91 143.00 M656.27 135.78 L660.02 135.78 M663.76 136.58 L673.39 136.58 M663.76 139.79 L673.39 139.79 M684.09 135.51 L683.56 137.12 L682.49 138.19 L680.88 138.72 L680.35 138.72 L678.74 138.19 L677.67 137.12 L677.13 135.51 L677.13 134.97 L677.67 133.37 L678.74 132.30 L680.35 131.76 L680.88 131.76 L682.49 132.30 L683.56 133.37 L684.09 135.51 L684.09 138.19 L683.56 140.86 L682.49 142.47 L680.88 143.00 L679.81 143.00 L678.21 142.47 L677.67 141.40 M689.44 133.91 L690.51 133.37 L692.12 131.76 L692.12 143.00 M701.21 131.76 L699.61 132.30 L699.07 133.37 L699.07 134.44 L699.61 135.51 L700.68 136.04 L702.82 136.58 L704.42 137.12 L705.49 138.19 L706.03 139.25 L706.03 140.86 L705.49 141.93 L704.96 142.47 L703.35 143.00 L701.21 143.00 L699.61 142.47 L699.07 141.93 L698.54 140.86 L698.54 139.25 L699.07 138.19 L700.14 137.12 L701.75 136.58 L703.88 136.04 L704.96 135.51 L705.49 134.44 L705.49 133.37 L704.96 132.30 L703.35 131.76 L701.21 131.76 M712.45 131.76 L710.84 132.30 L709.77 133.91 L709.24 136.58 L709.24 138.19 L709.77 140.86 L710.84 142.47 L712.45 143.00 L713.52 143.00 L715.12 142.47 L716.19 140.86 L716.73 138.19 L716.73 136.58 L716.19 133.91 L715.12 132.30 L713.52 131.76 L712.45 131.76 M723.15 131.76 L721.54 132.30 L720.47 133.91 L719.94 136.58 L719.94 138.19 L720.47 140.86 L721.54 142.47 L723.15 143.00 L724.22 143.00 L725.82 142.47 L726.89 140.86 L727.43 138.19 L727.43 136.58 L726.89 133.91 L725.82 132.30 L724.22 131.76 L723.15 131.76 M745.08 137.33 L744.55 136.29 L742.94 135.78 L741.34 135.78 L739.73 136.29 L739.20 137.33 L739.73 138.36 L740.80 138.87 L743.48 139.39 L744.55 139.90 L745.08 140.94 L745.08 141.45 L744.55 142.48 L742.94 143.00 L741.34 143.00 L739.73 142.48 L739.20 141.45" fill="none" stroke="#000" stroke-width="1" stroke-linecap="round" stroke-linejoin="round"/>
<path d="M330.52 404.31 L331.66 403.74 L333.37 402.03 L333.37 414.00" fill="none" stroke="#000" stroke-width="2" stroke-linecap="round" stroke-linejoin="round"/>
<path d="M406.08 404.88 L406.08 404.31 L406.65 403.17 L407.22 402.60 L408.36 402.03 L410.64 402.03 L411.78 402.60 L412.35 403.17 L412.92 404.31 L412.92 405.45 L412.35 406.59 L411.21 408.30 L405.51 414.00 L413.49 414.00" fill="none" stroke="#000" stroke-width="2" stroke-linecap="round" stroke-linejoin="round"/>
<path d="M483.35 402.03 L489.62 402.03 L486.20 406.59 L487.91 406.59 L489.05 407.16 L489.62 407.73 L490.19 409.44 L490.19 410.58 L489.62 412.29 L488.48 413.43 L486.77 414.00 L485.06 414.00 L483.35 413.43 L482.78 412.86 L482.21 411.72" fill="none" stroke="#000" stroke-width="2" stroke-linecap="round" stroke-linejoin="round"/>
<path d="M564.61 402.03 L558.91 410.01 L567.46 410.01 M564.61 402.03 L564.61 414.00" fill="none" stroke="#000" stroke-width="2" stroke-linecap="round" stroke-linejoin="round"/>
<path d="M642.45 402.03 L636.75 402.03 L636.18 407.16 L636.75 406.59 L638.46 406.02 L640.17 406.02 L641.88 406.59 L643.02 407.73 L643.59 409.44 L643.59 410.58 L643.02 412.29 L641.88 413.43 L640.17 414.00 L638.46 414.00 L636.75 413.43 L636.18 412.86 L635.61 411.72" fill="none" stroke="#000" stroke-width="2" stroke-linecap="round" stroke-linejoin="round"/>
<path d="M237.82 300.90 L238.96 300.33 L240.67 298.62 L240.67 310.59" fill="none" stroke="#000" stroke-width="2" stroke-linecap="round" stroke-linejoin="round"/>
<path d="M236.68 213.47 L236.68 212.90 L237.25 211.76 L237.82 211.19 L238.96 210.62 L241.24 210.62 L242.38 211.19 L242.95 211.76 L243.52 212.90 L243.52 214.04 L242.95 215.18 L241.81 216.89 L236.11 222.59 L244.09 222.59" fill="none" stroke="#000" stroke-width="2" stroke-linecap="round" stroke-linejoin="round"/>
<path d="M690.89 190.14 L689.36 190.66 L688.34 192.19 L687.83 194.73 L687.83 196.26 L688.34 198.81 L689.36 200.34 L690.89 200.85 L691.91 200.85 L693.44 200.34 L694.46 198.81 L694.97 196.26 L694.97 194.73 L694.46 192.19 L693.44 190.66 L691.91 190.14 L690.89 190.14 M699.05 199.83 L698.54 200.34 L699.05 200.85 L699.56 200.34 L699.05 199.83 M706.19 190.14 L704.66 190.66 L703.64 192.19 L703.13 194.73 L703.13 196.26 L703.64 198.81 L704.66 200.34 L706.19 200.85 L707.21 200.85 L708.74 200.34 L709.76 198.81 L710.27 196.26 L710.27 194.73 L709.76 192.19 L708.74 190.66 L707.21 190.14 L706.19 190.14 M714.86 192.19 L715.88 191.67 L717.41 190.14 L717.41 200.85 M729.65 190.14 L724.55 190.14 L724.04 194.73 L724.55 194.22 L726.08 193.71 L727.61 193.71 L729.14 194.22 L730.16 195.24 L730.67 196.77 L730.67 197.79 L730.16 199.32 L729.14 200.34 L727.61 200.85 L726.08 200.85 L724.55 200.34 L724.04 199.83 L723.53 198.81" fill="none" stroke="#000" stroke-width="2" stroke-linecap="round" stroke-linejoin="round"/>
<path d="M690.89 256.15 L689.36 256.66 L688.34 258.19 L687.83 260.74 L687.83 262.27 L688.34 264.81 L689.36 266.35 L690.89 266.86 L691.91 266.86 L693.44 266.35 L694.46 264.81 L694.97 262.27 L694.97 260.74 L694.46 258.19 L693.44 256.66 L691.91 256.15 L690.89 256.15 M699.05 265.84 L698.54 266.35 L699.05 266.86 L699.56 266.35 L699.05 265.84 M706.19 256.15 L704.66 256.66 L703.64 258.19 L703.13 260.74 L703.13 262.27 L703.64 264.81 L704.66 266.35 L706.19 266.86 L707.21 266.86 L708.74 266.35 L709.76 264.81 L710.27 262.27 L710.27 260.74 L709.76 258.19 L708.74 256.66 L707.21 256.15 L706.19 256.15 M714.86 258.19 L715.88 257.68 L717.41 256.15 L717.41 266.86" fill="none" stroke="#000" stroke-width="2" stroke-linecap="round" stroke-linejoin="round"/>
<path d="M690.89 334.15 L689.36 334.66 L688.34 336.19 L687.83 338.74 L687.83 340.27 L688.34 342.81 L689.36 344.35 L690.89 344.86 L691.91 344.86 L693.44 344.35 L694.46 342.81 L694.97 340.27 L694.97 338.74 L694.46 336.19 L693.44 334.66 L691.91 334.15 L690.89 334.15 M699.05 343.84 L698.54 344.35 L699.05 344.86 L699.56 344.35 L699.05 343.84 M706.19 334.15 L704.66 334.66 L703.64 336.19 L703.13 338.74 L703.13 340.27 L703.64 342.81 L704.66 344.35 L706.19 344.86 L707.21 344.86 L708.74 344.35 L709.76 342.81 L710.27 340.27 L710.27 338.74 L709.76 336.19 L708.74 334.66 L707.21 334.15 L706.19 334.15 M716.39 334.15 L714.86 334.66 L713.84 336.19 L713.33 338.74 L713.33 340.27 L713.84 342.81 L714.86 344.35 L716.39 344.86 L717.41 344.86 L718.94 344.35 L719.96 342.81 L720.47 340.27 L720.47 338.74 L719.96 336.19 L718.94 334.66 L717.41 334.15 L716.39 334.15 M728.63 334.15 L723.53 341.29 L731.18 341.29 M728.63 334.15 L728.63 344.86" fill="none" stroke="#000" stroke-width="2" stroke-linecap="round" stroke-linejoin="round"/>
<path d="M690.89 373.15 L689.36 373.66 L688.34 375.19 L687.83 377.74 L687.83 379.27 L688.34 381.81 L689.36 383.35 L690.89 383.86 L691.91 383.86 L693.44 383.35 L694.46 381.81 L694.97 379.27 L694.97 377.74 L694.46 375.19 L693.44 373.66 L691.91 373.15 L690.89 373.15 M699.05 382.84 L698.54 383.35 L699.05 383.86 L699.56 383.35 L699.05 382.84 M706.19 373.15 L704.66 373.66 L703.64 375.19 L703.13 377.74 L703.13 379.27 L703.64 381.81 L704.66 383.35 L706.19 383.86 L707.21 383.86 L708.74 383.35 L709.76 381.81 L710.27 379.27 L710.27 377.74 L709.76 375.19 L708.74 373.66 L707.21 373.15 L706.19 373.15 M716.39 373.15 L714.86 373.66 L713.84 375.19 L713.33 377.74 L713.33 379.27 L713.84 381.81 L714.86 383.35 L716.39 383.86 L717.41 383.86 L718.94 383.35 L719.96 381.81 L720.47 379.27 L720.47 377.74 L719.96 375.19 L718.94 373.66 L717.41 373.15 L716.39 373.15 M725.06 375.19 L726.08 374.68 L727.61 373.15 L727.61 383.86" fill="none" stroke="#000" stroke-width="2" stroke-linecap="round" stroke-linejoin="round"/>
<path d="M690.89 386.15 L689.36 386.66 L688.34 388.19 L687.83 390.74 L687.83 392.27 L688.34 394.81 L689.36 396.35 L690.89 396.86 L691.91 396.86 L693.44 396.35 L694.46 394.81 L694.97 392.27 L694.97 390.74 L694.46 388.19 L693.44 386.66 L691.91 386.15 L690.89 386.15" fill="none" stroke="#000" stroke-width="2" stroke-linecap="round" stroke-linejoin="round"/>
</svg>
</body></html>
